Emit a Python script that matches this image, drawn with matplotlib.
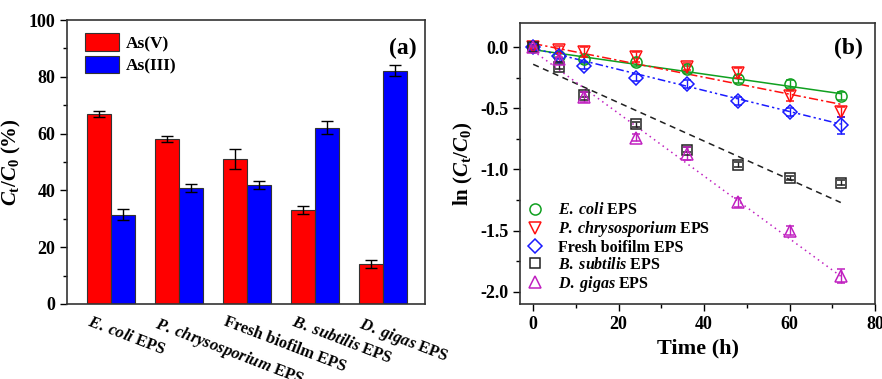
import numpy as np
import matplotlib
matplotlib.use("Agg")
import matplotlib.pyplot as plt
import matplotlib.transforms as mtransforms
from matplotlib.ticker import MultipleLocator

plt.rcParams['font.family'] = 'Liberation Serif'
plt.rcParams['font.weight'] = 'bold'
plt.rcParams['axes.labelweight'] = 'bold'
plt.rcParams['mathtext.fontset'] = 'custom'
plt.rcParams['mathtext.rm'] = 'Liberation Serif:bold'
plt.rcParams['mathtext.it'] = 'Liberation Serif:italic:bold'
plt.rcParams['mathtext.bf'] = 'Liberation Serif:bold'

## panel (a) data
groups = [r'$\mathit{E.\;coli}$ EPS', r'$\mathit{P.\;chrysosporium}$ EPS',
          'Fresh biofilm EPS', r'$\mathit{B.\;subtilis}$ EPS', r'$\mathit{D.\;gigas}$ EPS']
as5 = [67.0, 58.0, 51.0, 33.0, 14.2]
as5_err = [1.0, 1.0, 3.6, 1.4, 1.4]
as3 = [31.5, 41.0, 42.0, 62.0, 82.2]
as3_err = [1.8, 1.4, 1.4, 2.3, 2.0]

## panel (b) data
time_h = [0, 6, 12, 24, 36, 48, 60, 72]
ecoli = [0.0, -0.07, -0.10, -0.12, -0.18, -0.26, -0.30, -0.40]
ecoli_err = [0.02, 0.02, 0.03, 0.03, 0.03, 0.03, 0.03, 0.03]
pchry = [0.0, -0.02, -0.04, -0.08, -0.16, -0.21, -0.40, -0.53]
pchry_err = [0.02, 0.03, 0.04, 0.04, 0.03, 0.04, 0.04, 0.04]
fresh = [0.0, -0.07, -0.15, -0.25, -0.30, -0.44, -0.53, -0.64]
fresh_err = [0.02, 0.03, 0.03, 0.03, 0.03, 0.03, 0.03, 0.07]
bsub = [0.0, -0.16, -0.39, -0.63, -0.84, -0.96, -1.07, -1.11]
bsub_err = [0.01, 0.02, 0.02, 0.02, 0.02, 0.02, 0.02, 0.02]
dgig = [0.0, -0.10, -0.41, -0.74, -0.87, -1.27, -1.50, -1.87]
dgig_err = [0.01, 0.02, 0.04, 0.03, 0.05, 0.04, 0.04, 0.06]

# linear fits: (intercept, slope)
fit_int = [-0.02, 0.03, -0.01, -0.14, -0.03]
fit_slope = [-0.0050, -0.0069, -0.0086, -0.0157, -0.0256]

fig = plt.figure(figsize=(8.82, 3.79), dpi=100)

# ---------- (a) ----------
ax1 = fig.add_axes([0.076, 0.198, 0.406, 0.749])
x = np.arange(len(groups))
w = 0.35
ax1.bar(x - w/2, as5, w, color='#ff0000', edgecolor='#333333', linewidth=0.8, label='As(V)')
ax1.bar(x + w/2, as3, w, color='#0000ff', edgecolor='#333333', linewidth=0.8, label='As(III)')
ax1.errorbar(x - w/2, as5, yerr=as5_err, fmt='none', ecolor='black', elinewidth=1, capsize=4, capthick=1)
ax1.errorbar(x + w/2, as3, yerr=as3_err, fmt='none', ecolor='black', elinewidth=1, capsize=4, capthick=1)
ax1.set_xlim(-0.65, 4.62)
ax1.set_ylim(0, 100)
ax1.yaxis.set_major_locator(MultipleLocator(20))
ax1.yaxis.set_minor_locator(MultipleLocator(10))
ax1.set_xticks(x)
ax1.set_xticklabels([])
ax1.tick_params(axis='x', length=0)
# rotated category labels, starting a little left of each group centre
lab_tr = ax1.get_xaxis_transform() + mtransforms.ScaledTranslation(-0.2, -0.1, fig.dpi_scale_trans)
for xi, g in zip(x, groups):
    ax1.text(xi, 0, g, transform=lab_tr, rotation=-21, rotation_mode='anchor',
             ha='left', va='top', fontsize=12, clip_on=False)
ax1.tick_params(axis='y', which='major', length=5, width=1, labelsize=13)
ax1.tick_params(axis='y', which='minor', length=3, width=1)
ax1.set_ylabel(r'$\mathit{C}_\mathrm{t}/\mathit{C}_\mathrm{0}$ (%)', fontsize=15)
ax1.text(0.975, 0.9, '(a)', transform=ax1.transAxes, ha='right', va='center', fontsize=17)
ax1.legend(loc='upper left', bbox_to_anchor=(0.02, 0.99), frameon=False, fontsize=12.5,
           handlelength=2.0, handleheight=1.2, handletextpad=0.4, labelspacing=0.2, borderaxespad=0.2)
for sp in ax1.spines.values():
    sp.set_linewidth(1.2)
    sp.set_color('#333333')

# ---------- (b) ----------
ax2 = fig.add_axes([0.590, 0.198, 0.402, 0.742])
series = [ecoli, pchry, fresh, bsub, dgig]
errs = [ecoli_err, pchry_err, fresh_err, bsub_err, dgig_err]
names = [r'$\mathit{E.\;coli}$ EPS', r'$\mathit{P.\;chrysosporium}$ EPS', 'Fresh boifilm EPS',
         r'$\mathit{B.\;subtilis}$ EPS', r'$\mathit{D.\;gigas}$ EPS']
colors = ['#10a020', '#ff1010', '#1a1aff', '#202020', '#c020c0']
markers = ['o', 'v', 'D', 's', '^']
msizes = [8, 9, 7.5, 7, 9]
styles = ['-', (0, (6, 2, 1.5, 2)), (0, (5, 2, 1.5, 2, 1.5, 2)), (0, (4, 3)), (0, (1, 2.5))]

t = np.array(time_h)
for ys, er, nm, c, m, ms, ls, b0, b1 in zip(series, errs, names, colors, markers, msizes, styles, fit_int, fit_slope):
    ax2.errorbar(t, ys, yerr=er, fmt=m, mfc='none', mec=c, mew=1.1, ms=ms, ecolor=c,
                 elinewidth=1, capsize=3, capthick=1, label=nm, zorder=3)
    tf = np.array([0, 72])
    ax2.plot(tf, b0 + b1 * tf, color=c, linestyle=ls, linewidth=1.1, zorder=2)

ax2.set_xlim(-3, 80)
ax2.set_ylim(-2.1, 0.2)
ax2.xaxis.set_major_locator(MultipleLocator(20))
ax2.xaxis.set_minor_locator(MultipleLocator(10))
ax2.yaxis.set_major_locator(MultipleLocator(0.5))
ax2.yaxis.set_minor_locator(MultipleLocator(0.25))
ax2.yaxis.set_major_formatter(plt.FuncFormatter(lambda v, p: '%.1f' % v))
ax2.tick_params(which='major', length=5, width=1, labelsize=13)
ax2.tick_params(which='minor', length=3, width=1)
ax2.set_xlabel('Time (h)', fontsize=16)
ax2.set_ylabel(r'ln ($\mathit{C}_\mathrm{t}/\mathit{C}_\mathrm{0}$)', fontsize=15)
ax2.text(0.965, 0.91, '(b)', transform=ax2.transAxes, ha='right', va='center', fontsize=17)
h, l = ax2.get_legend_handles_labels()
h = [hh[0] for hh in h]
ax2.legend(h, l, loc='lower left', bbox_to_anchor=(-0.01, 0.0), frameon=False, fontsize=11.5,
           handlelength=1.0, handletextpad=0.9, labelspacing=0.05, borderaxespad=0.25)
for sp in ax2.spines.values():
    sp.set_linewidth(1.2)
    sp.set_color('#333333')

fig.savefig('out.png', dpi=100)
